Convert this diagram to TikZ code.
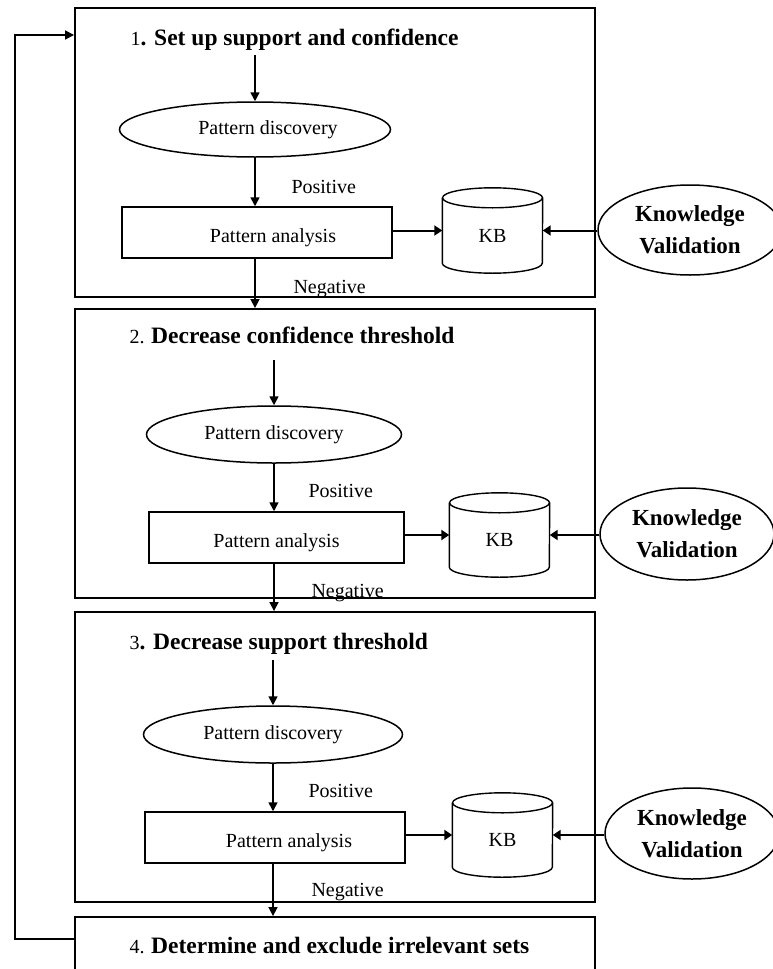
\documentclass[tikz,border=0pt]{standalone}
\usepackage{fontspec}
\setmainfont{Liberation Serif}
\usetikzlibrary{shapes.geometric,arrows.meta}
\newcommand\ttlb[1]{{\fontsize{23.5}{28}\selectfont\bfseries #1}}
\newcommand\kbcyl[1]{%
  \draw[line width=1.4pt] ([yshift=-10pt]#1.north west) -- ([yshift=10pt]#1.south west)
    arc[start angle=180,end angle=360,x radius=50pt,y radius=10pt] -- ([yshift=-10pt]#1.north east);
  \draw[line width=1.4pt] ([yshift=-10pt]#1.north) ellipse[x radius=50pt,y radius=10pt];}
\begin{document}
\begin{tikzpicture}[x=1pt,y=1pt,
  every node/.style={font=\fontsize{20}{24}\selectfont},
  stage/.style={draw,line width=1.9pt,minimum width=520pt,inner sep=0pt},
  disc/.style={ellipse,draw,line width=1.5pt,inner sep=0pt},
  anabox/.style={rectangle,draw,line width=1.5pt,inner sep=0pt,text height=24pt,text depth=4pt},
  kbnode/.style={rectangle,inner sep=0pt,minimum width=100pt,text height=27pt,text depth=4pt},
  kvnode/.style={ellipse,draw,line width=1.5pt,inner sep=0pt,align=center,font=\fontsize{23}{32}\selectfont\bfseries},
  conn/.style={line width=1.7pt,-{Triangle[length=9pt,width=9pt]}},
  hconn/.style={line width=2pt,-{Triangle[length=8pt,width=10pt]}},
  ttl/.style={anchor=base west},
  lbl/.style={anchor=base west},
]
\clip (0,0) rectangle (773,-969);
% stage boxes
\node[stage,minimum height=289pt] (b1) at (335,-152.5) {};
\node[stage,minimum height=289pt] (b2) at (335,-453.5) {};
\node[stage,minimum height=290pt] (b3) at (335,-757) {};
\node[stage,minimum height=58pt] (b4) at (335,-946) {};
% titles
\node[ttl] (t1) at (127,-45) {1\ttlb{. Set up support and confidence}};
\node[ttl] (t2) at (126,-343) {2. \ttlb{Decrease confidence threshold}};
\node[ttl] (t3) at (126,-649) {3\ttlb{. Decrease support threshold}};
\node[ttl] (t4) at (126,-953) {4. \ttlb{Determine and exclude irrelevant sets}};
% stage 1
\coordinate (s1) at (255,-55);
\node[disc,minimum width=271pt,minimum height=55pt] (pd1) at (255,-129.5) {\hspace*{26pt}Pattern discovery};
\node[anabox,minimum width=270pt,minimum height=51pt] (pa1) at (257,-232.5) {\hspace*{32pt}Pattern analysis};
\node[kbnode,minimum height=85pt] (kb1) at (492.5,-230.5) {KB};
\kbcyl{kb1}
\node[kvnode,minimum width=184pt,minimum height=90pt] (kv1) at (690,-230) {Knowledge\\Validation};
\node[lbl] (pos1) at (288,-193) {Positive};
\node[lbl] (neg1) at (290,-293) {Negative};
\draw[conn] (s1) -- (s1 |- pd1.north);
\draw[conn] (pd1.south -| s1) -- (s1 |- pa1.north);
\draw[conn] (pa1.south -| s1) -- (s1 |- b2.north);
\draw[hconn] (pa1.east |- kb1) -- (kb1.west);
\draw[hconn] (kv1.west |- kb1) -- (kb1.east);
% stage 2
\coordinate (s2) at (274,-360);
\node[disc,minimum width=255pt,minimum height=57pt] (pd2) at (274,-434.5) {Pattern discovery};
\node[anabox,minimum width=255pt,minimum height=51pt] (pa2) at (276.5,-537.5) {Pattern analysis};
\node[kbnode,minimum height=84pt] (kb2) at (499.5,-535) {KB};
\kbcyl{kb2}
\node[kvnode,minimum width=174pt,minimum height=92pt] (kv2) at (687,-534) {Knowledge\\Validation};
\node[lbl] (pos2) at (305,-497) {Positive};
\node[lbl] (neg2) at (308,-597) {Negative};
\draw[conn] (s2) -- (s2 |- pd2.north);
\draw[conn] (pd2.south -| s2) -- (s2 |- pa2.north);
\draw[conn] (pa2.south -| s2) -- (s2 |- b3.north);
\draw[hconn] (pa2.east |- kb2) -- (kb2.west);
\draw[hconn] (kv2.west |- kb2) -- (kb2.east);
% stage 3
\coordinate (s3) at (273,-660);
\node[disc,minimum width=259pt,minimum height=57pt] (pd3) at (273,-734.5) {Pattern discovery};
\node[anabox,minimum width=260pt,minimum height=51pt] (pa3) at (275,-837.5) {\hspace*{28pt}Pattern analysis};
\node[kbnode,minimum height=84pt] (kb3) at (502.5,-835) {KB};
\kbcyl{kb3}
\node[kvnode,minimum width=174pt,minimum height=91pt] (kv3) at (692,-833.5) {Knowledge\\Validation};
\node[lbl] (pos3) at (305,-797) {Positive};
\node[lbl] (neg3) at (308,-896) {Negative};
\draw[conn] (s3) -- (s3 |- pd3.north);
\draw[conn] (pd3.south -| s3) -- (s3 |- pa3.north);
\draw[conn] (pa3.south -| s3) -- (s3 |- b4.north);
\draw[hconn] (pa3.east |- kb3) -- (kb3.west);
\draw[hconn] (kv3.west |- kb3) -- (kb3.east);
% loop back
\draw[conn] ([yshift=7pt]b4.west) -- ++(-59,0) |- ([yshift=117.5pt]b1.west);
\end{tikzpicture}
\end{document}
